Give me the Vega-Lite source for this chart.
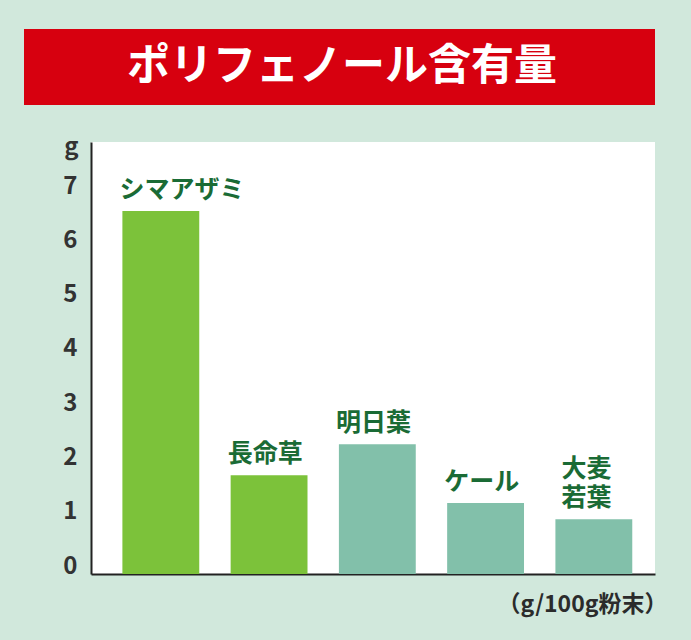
{
  "$schema": "https://vega.github.io/schema/vega-lite/v6.json",
  "background": "#d1e8dc",
  "padding": {"left": 24, "top": 29, "right": 36, "bottom": 26},
  "spacing": 30,
  "columns": 1,
  "align": "none",
  "bounds": "full",
  "config": {"view": {"stroke": null}, "font": "Noto Sans CJK JP"},
  "concat": [
    {
      "width": 564,
      "height": 76,
      "view": {"fill": "#d7000f", "stroke": null},
      "data": {"values": [{"title": "ポリフェノール含有量"}]},
      "mark": {"type": "text", "color": "#ffffff", "fontSize": 43, "fontWeight": "bold", "align": "center", "baseline": "middle", "dx": -31, "font": "Noto Sans CJK JP"},
      "encoding": {
        "y": {
          "field": "title", "type": "nominal",
          "axis": {
            "labels": false, "ticks": false, "tickSize": 0, "title": null, "grid": false,
            "domain": true, "domainColor": "#d7000f", "domainWidth": 134, "domainCap": "butt",
            "translate": 0, "minExtent": 67, "maxExtent": 67
          }
        },
        "text": {"field": "title", "type": "nominal"}
      }
    },
    {
      "width": 564,
      "height": 432,
      "view": {"fill": "#ffffff", "stroke": null},
      "data": {"values": [
        {"plant": "シマアザミ", "label": ["シマアザミ"], "g": 6.69, "group": "緑"},
        {"plant": "長命草", "label": ["長命草"], "g": 1.82, "group": "緑"},
        {"plant": "明日葉", "label": ["明日葉"], "g": 2.39, "group": "他"},
        {"plant": "ケール", "label": ["ケール"], "g": 1.31, "group": "他"},
        {"plant": "大麦若葉", "label": ["大麦", "若葉"], "g": 1.01, "group": "他"}
      ]},
      "encoding": {
        "x": {
          "field": "plant", "type": "nominal", "sort": null,
          "scale": {"paddingInner": 0.29, "paddingOuter": 0.25, "align": 0.58},
          "axis": {
            "labels": false, "ticks": false, "tickSize": 0, "grid": false,
            "domainColor": "#222222", "domainWidth": 2,
            "title": "（g/100g粉末）", "titleX": 576, "titleY": 30,
            "titleAlign": "right", "titleBaseline": "middle",
            "titleFontSize": 23, "titleFontWeight": "bold", "titleColor": "#2b2b2b",
            "titleFont": "Noto Sans CJK JP"
          }
        },
        "y": {
          "field": "g", "type": "quantitative",
          "scale": {"domain": [0, 7.96], "nice": false, "zero": true},
          "axis": {
            "values": [0, 1, 2, 3, 4, 5, 6, 7],
            "ticks": false, "tickSize": 0, "grid": false,
            "domainColor": "#222222", "domainWidth": 2,
            "labelFontSize": 24, "labelFontWeight": "bold", "labelColor": "#333333",
            "labelFont": "Noto Sans CJK JP",
            "labelPadding": 14, "labelOffset": -8, "labelBaseline": "middle",
            "minExtent": 67,
            "title": "g", "titleAngle": 0, "titleX": -20, "titleY": 5,
            "titleAlign": "center", "titleBaseline": "middle",
            "titleFontSize": 24, "titleFontWeight": "bold", "titleColor": "#333333",
            "titleFont": "Noto Sans CJK JP"
          }
        }
      },
      "layer": [
        {
          "mark": {"type": "bar"},
          "encoding": {
            "color": {"field": "group", "type": "nominal", "scale": {"domain": ["緑", "他"], "range": ["#7cc23a", "#82c0aa"]}, "legend": null}
          }
        },
        {
          "transform": [{"filter": "length(datum.label) < 2"}],
          "mark": {"type": "text", "align": "left", "baseline": "bottom", "dx": -3, "dy": -8, "fontSize": 25, "fontWeight": "bold", "color": "#1a6b35", "lineHeight": 29, "font": "Noto Sans CJK JP"},
          "encoding": {
            "x": {"field": "plant", "type": "nominal", "sort": null, "bandPosition": 0},
            "text": {"field": "label", "type": "nominal"}
          }
        },
        {
          "transform": [{"filter": "length(datum.label) >= 2"}],
          "mark": {"type": "text", "align": "left", "baseline": "bottom", "dx": 6, "dy": -37, "fontSize": 25, "fontWeight": "bold", "color": "#1a6b35", "lineHeight": 29, "font": "Noto Sans CJK JP"},
          "encoding": {
            "x": {"field": "plant", "type": "nominal", "sort": null, "bandPosition": 0},
            "text": {"field": "label", "type": "nominal"}
          }
        }
      ]
    }
  ]
}
